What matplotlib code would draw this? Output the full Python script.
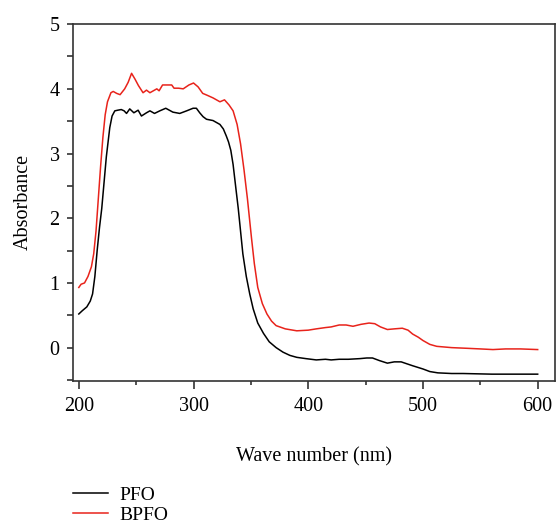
import numpy as np
import matplotlib
matplotlib.use("Agg")
import matplotlib.pyplot as plt
from matplotlib.ticker import MultipleLocator

plt.rcParams['font.family'] = ['Liberation Serif', 'DejaVu Serif']

# PFO (black)
pfo_x = [200, 203, 207, 210, 212, 214, 216, 218, 220, 222, 224, 227, 229, 231.4,
         234, 237, 239.5, 241.6, 244.4, 248, 251.7, 254.6, 259, 262, 266, 270.6,
         275.8, 282, 288, 294, 299.6, 302.5, 305.4, 308.3, 311.3, 317, 320, 323,
         326, 328.6, 330.5, 332.5, 334.5, 337, 339, 341, 343, 346, 349, 352, 356,
         361, 366, 372, 378, 384, 390, 398, 407, 415, 420, 427, 435, 445, 451, 456,
         462, 469, 475, 481, 486, 491, 500, 506, 513, 525, 535, 560, 600]
pfo_y = [0.52, 0.57, 0.63, 0.72, 0.83, 1.1, 1.5, 1.85, 2.15, 2.55, 2.95, 3.4, 3.58, 3.66,
         3.67, 3.68, 3.66, 3.62, 3.69, 3.63, 3.67, 3.58, 3.63, 3.66, 3.62, 3.66,
         3.70, 3.64, 3.62, 3.66, 3.70, 3.70, 3.63, 3.57, 3.53, 3.51, 3.48, 3.45,
         3.38, 3.27, 3.18, 3.05, 2.83, 2.45, 2.15, 1.8, 1.45, 1.1, 0.83, 0.6, 0.38,
         0.22, 0.09, 0.0, -0.07, -0.12, -0.15, -0.17, -0.19, -0.18, -0.19, -0.18, -0.18, -0.17, -0.16, -0.16,
         -0.20, -0.24, -0.22, -0.22, -0.25, -0.28, -0.33, -0.37, -0.39, -0.40, -0.40, -0.41, -0.41]

# BPFO (red)
bpfo_x = [200, 202, 205, 208, 211, 213, 215, 217, 219, 221, 223, 225, 228, 230, 233,
          236, 240, 243, 246, 249, 252, 256, 259, 262, 265, 268, 270, 273, 277, 281,
          283, 287, 291, 296, 300, 304, 308, 312, 317, 323, 327, 331, 334.5, 338, 341,
          344, 347, 350.5, 353, 356, 360, 364, 368, 372, 380, 390, 400, 407, 415, 420,
          427, 433, 439, 446, 453, 458, 463, 469, 475, 482, 487, 491, 496, 500, 506,
          512, 525, 538, 550, 561, 572, 585, 600]
bpfo_y = [0.93, 0.98, 1.0, 1.1, 1.25, 1.45, 1.8, 2.3, 2.8, 3.25, 3.6, 3.8, 3.94, 3.96, 3.93,
          3.91, 4.0, 4.1, 4.24, 4.15, 4.05, 3.94, 3.98, 3.94, 3.97, 4.0, 3.97, 4.06, 4.06, 4.06,
          4.01, 4.01, 4.0, 4.06, 4.09, 4.03, 3.93, 3.90, 3.86, 3.80, 3.83, 3.75, 3.66, 3.45, 3.15,
          2.75, 2.3, 1.7, 1.3, 0.93, 0.68, 0.52, 0.41, 0.34, 0.29, 0.26, 0.27, 0.29, 0.31, 0.32,
          0.35, 0.35, 0.33, 0.36, 0.38, 0.37, 0.32, 0.28, 0.29, 0.30, 0.27, 0.21, 0.16, 0.11, 0.05,
          0.02, 0.0, -0.01, -0.02, -0.03, -0.02, -0.02, -0.03]

fig = plt.figure(figsize=(5.56, 5.25), dpi=100)
ax = fig.add_axes([0.131, 0.275, 0.867, 0.679])

ax.plot(pfo_x, pfo_y, color='black', lw=1.1, label='PFO')
ax.plot(bpfo_x, bpfo_y, color='#e8231b', lw=1.1, label='BPFO')

ax.set_xlim(194.8, 615)
ax.set_ylim(-0.51, 5)
ax.set_xticks([200, 300, 400, 500, 600])
ax.xaxis.set_minor_locator(MultipleLocator(50))
ax.set_yticks([0, 1, 2, 3, 4, 5])
ax.yaxis.set_minor_locator(MultipleLocator(0.5))
ax.tick_params(which='both', direction='out', color='#333333', width=1.2, labelsize=14.5)
ax.tick_params(axis='x', which='major', length=5.5, pad=6)
ax.tick_params(axis='x', which='minor', length=3)
ax.tick_params(axis='y', which='both', length=4.5, pad=5)
for s in ax.spines.values():
    s.set_color('#333333')
    s.set_linewidth(1.2)

ax.set_xlabel('Wave number (nm)', fontsize=14.5, labelpad=23)
ax.set_ylabel('Absorbance', fontsize=14.5, labelpad=12)

fig.legend(loc='upper left', bbox_to_anchor=(0.131, 0.074), frameon=False,
           fontsize=14, handlelength=1.8, handletextpad=0.6, labelspacing=0.12,
           borderpad=0, borderaxespad=0)

fig.savefig('out.png', dpi=100)
